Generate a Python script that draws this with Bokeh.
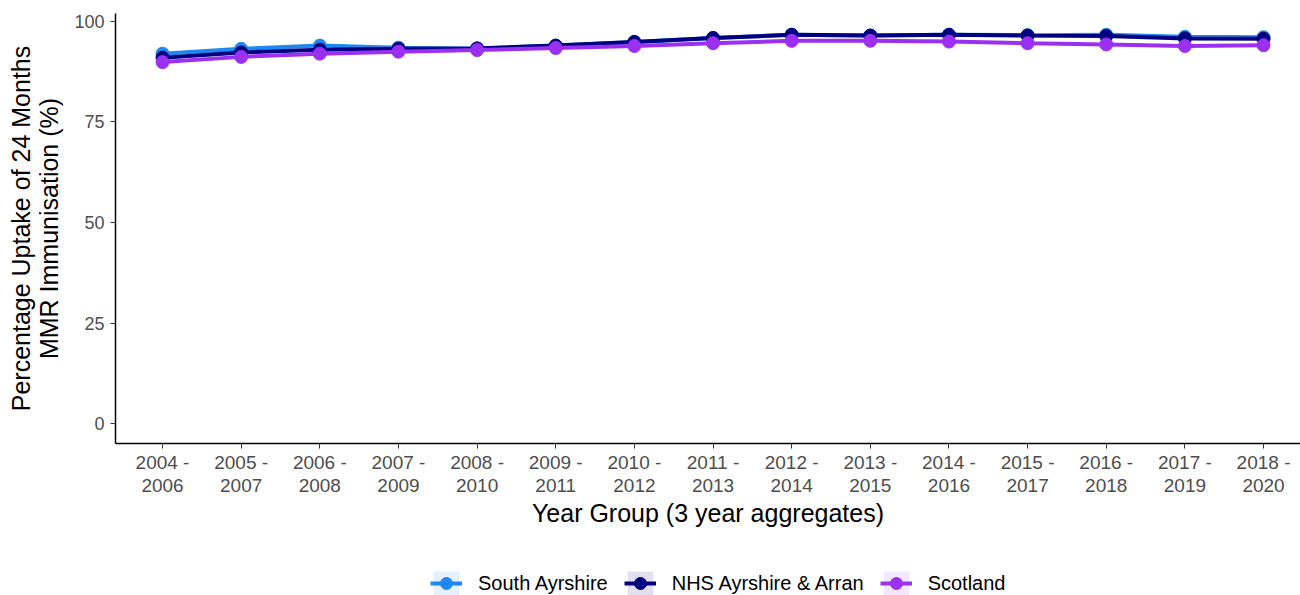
from bokeh.plotting import figure
from bokeh.layouts import column
from bokeh.models import Range1d, Legend, LegendItem, FixedTicker, ColumnDataSource
from bokeh.embed import file_html
from bokeh.resources import INLINE

year_groups = ["2004 -\n2006", "2005 -\n2007", "2006 -\n2008", "2007 -\n2009", "2008 -\n2010",
               "2009 -\n2011", "2010 -\n2012", "2011 -\n2013", "2012 -\n2014", "2013 -\n2015",
               "2014 -\n2016", "2015 -\n2017", "2016 -\n2018", "2017 -\n2019", "2018 -\n2020"]
south_ayrshire = [92.0, 93.2, 94.0, 93.5, 93.3, 94.0, 94.9, 95.9, 96.7, 96.5, 96.7, 96.6, 96.7, 96.2, 96.1]
nhs_ayrshire = [91.0, 92.3, 93.0, 93.2, 93.3, 94.0, 94.9, 95.9, 96.7, 96.5, 96.7, 96.5, 96.4, 95.8, 95.7]
scotland = [89.9, 91.2, 92.0, 92.5, 92.9, 93.4, 93.9, 94.6, 95.2, 95.2, 95.0, 94.6, 94.3, 93.9, 94.1]
y_ticks = [0, 25, 50, 75, 100]

series = [("South Ayrshire", south_ayrshire, "#1E88F0"),
          ("NHS Ayrshire & Arran", nhs_ayrshire, "#000080"),
          ("Scotland", scotland, "#9B30F0")]

FONT = "Liberation Sans"

p = figure(width=1300, height=540, output_backend="svg", toolbar_location=None,
           x_range=Range1d(-0.598, 14.47), y_range=Range1d(-4.975, 101.99),
           min_border_left=115, min_border_right=0, min_border_top=13, min_border_bottom=97)
p.outline_line_color = None
p.xgrid.visible = False
p.ygrid.visible = False
p.background_fill_color = "white"

# small strip underneath that only carries the legend
lg = figure(width=1300, height=55, output_backend="svg", toolbar_location=None,
            x_range=Range1d(-100, -99), y_range=Range1d(-100, -99),
            x_axis_type=None, y_axis_type=None,
            min_border_left=0, min_border_right=0, min_border_top=0, min_border_bottom=0)
lg.outline_line_color = None
lg.xgrid.visible = False
lg.ygrid.visible = False

xs = list(range(len(year_groups)))
items = []
for name, vals, col in series:
    src = ColumnDataSource(dict(x=xs, y=vals))
    p.varea(x="x", y1="y", y2="y", source=src, fill_color=col, fill_alpha=0.12)
    p.line(x="x", y="y", source=src, line_color=col, line_width=4)
    p.scatter(x="x", y="y", source=src, size=13, fill_color=col, line_color=col)
    va = lg.varea(x="x", y1="y", y2="y", source=src, fill_color=col, fill_alpha=0.12)
    ln = lg.line(x="x", y="y", source=src, line_color=col, line_width=4)
    sc = lg.scatter(x="x", y="y", source=src, size=13, fill_color=col, line_color=col)
    items.append(LegendItem(label=name, renderers=[va, ln, sc]))

xa = p.xaxis[0]
xa.ticker = FixedTicker(ticks=xs)
xa.major_label_overrides = {i: lab for i, lab in enumerate(year_groups)}
xa.axis_label = "Year Group (3 year aggregates)"
ya = p.yaxis[0]
ya.ticker = FixedTicker(ticks=y_ticks)
ya.axis_label = "Percentage Uptake of 24 Months\nMMR Immunisation (%)"

for ax in (xa, ya):
    ax.axis_line_color = "black"
    ax.axis_line_width = 1.5
    ax.major_tick_line_color = "#333333"
    ax.major_tick_in = 0
    ax.major_tick_out = 5
    ax.minor_tick_line_color = None
    ax.major_label_text_font = FONT
    ax.major_label_text_font_size = "19px"
    ax.major_label_text_color = "#4D4D4D"
    ax.major_label_text_line_height = 1.1
    ax.axis_label_text_font = FONT
    ax.axis_label_text_font_size = "25px"
    ax.axis_label_text_font_style = "normal"
    ax.axis_label_text_color = "black"
    ax.axis_label_text_line_height = 1.0
xa.major_label_standoff = 3
xa.axis_label_standoff = 0
ya.major_label_text_font_size = "18px"
ya.major_label_standoff = 6
ya.axis_label_standoff = 8

legend = Legend(items=items, orientation="horizontal", location=(315, -3),
                label_text_font=FONT, label_text_font_size="20px", label_text_color="black",
                glyph_width=32, glyph_height=30, spacing=16, label_standoff=16,
                border_line_color=None, background_fill_alpha=0, margin=0, padding=0)
lg.add_layout(legend, "center")

layout = column(p, lg, spacing=0)
open("out.html", "w").write(file_html(layout, INLINE))
